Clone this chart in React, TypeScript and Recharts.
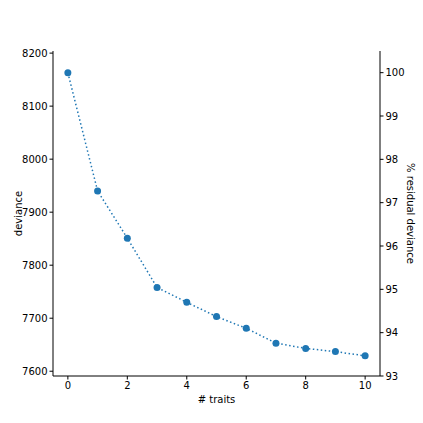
import { LineChart, Line, XAxis, YAxis } from "recharts";

const traits = [0, 1, 2, 3, 4, 5, 6, 7, 8, 9, 10];
const deviance = [8163, 7940, 7851, 7758, 7730, 7703, 7681, 7653, 7643, 7637, 7629];

const devianceTicks = [7600, 7700, 7800, 7900, 8000, 8100, 8200];
const residualTicks = [93, 94, 95, 96, 97, 98, 99, 100];
const traitTicks = [0, 2, 4, 6, 8, 10];

const data = traits.map((t, i) => ({ traits: t, dev: deviance[i] }));

const BLUE = "#1f77b4";
const tickStyle = { fontSize: 10, fill: "#000", fontFamily: "DejaVu Sans" };
const labelStyle = { fontSize: 10, fill: "#000", fontFamily: "DejaVu Sans", textAnchor: "middle" as const };

export default function App() {
  return (
    <div style={{ position: "absolute", left: 0, top: 0, width: 423, height: 423, background: "#fff" }}>
      <LineChart width={423} height={423} data={data} margin={{ top: 51, right: 0, left: 0, bottom: 0 }}>
        <XAxis
          dataKey="traits"
          type="number"
          domain={[-0.5, 10.5]}
          ticks={traitTicks}
          height={47}
          tick={tickStyle}
          tickSize={3.5}
          stroke="#000"
          label={{ value: "# traits", position: "insideBottom", offset: 20, style: labelStyle }}
        />
        <XAxis xAxisId="top" dataKey="traits" type="number" domain={[-0.5, 10.5]} orientation="top" height={0} tick={false} tickLine={false} stroke="#000" />
        <YAxis
          yAxisId="left"
          type="number"
          domain={[7591, 8204]}
          ticks={devianceTicks}
          allowDataOverflow
          width={53}
          tick={tickStyle}
          tickSize={3.5}
          stroke="#000"
          label={{ value: "deviance", angle: -90, position: "insideLeft", offset: 18, style: labelStyle }}
        />
        <YAxis
          yAxisId="right"
          orientation="right"
          type="number"
          domain={[93, 100.5]}
          ticks={residualTicks}
          allowDataOverflow
          width={43}
          tick={tickStyle}
          tickSize={3.5}
          stroke="#000"
          label={{ value: "% residual deviance", angle: 90, position: "insideRight", offset: 12, style: labelStyle }}
        />
        <Line
          yAxisId="right"
          dataKey="dev"
          stroke="none"
          dot={false}
          activeDot={false}
          isAnimationActive={false}
        />
        <Line
          yAxisId="left"
          dataKey="dev"
          type="linear"
          stroke={BLUE}
          strokeWidth={1.5}
          strokeDasharray="1.5 2.5"
          dot={{ r: 3.5, fill: BLUE, stroke: BLUE, strokeWidth: 0, strokeDasharray: "" }}
          isAnimationActive={false}
        />
      </LineChart>
    </div>
  );
}
